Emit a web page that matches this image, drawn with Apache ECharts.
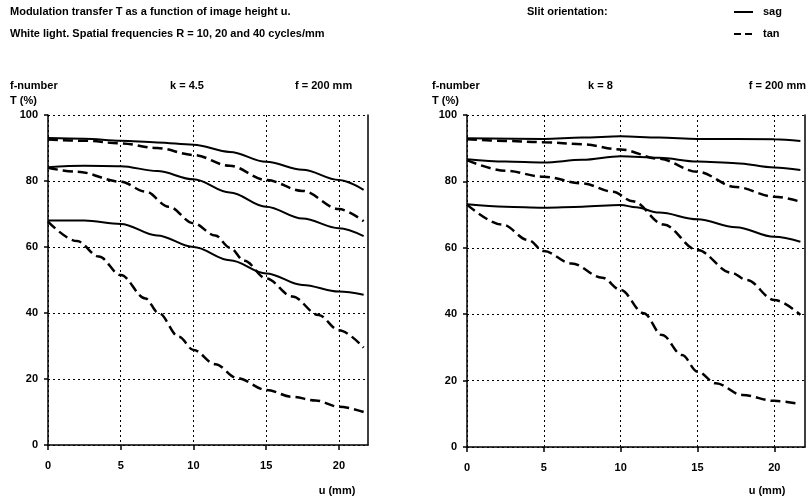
<!DOCTYPE html>
<html>
<head>
<meta charset="utf-8">
<script src="https://cdn.jsdelivr.net/npm/echarts@6/dist/echarts.min.js"></script>
<style>
  html, body { margin: 0; padding: 0; background: #fff; }
  #chart { width: 808px; height: 502px; }
</style>
</head>
<body>
<div id="chart"></div>
<script>
// u (mm) vs T (%), R = 10, 20, 40 cycles/mm
const xTicks = [0, 5, 10, 15, 20];
const yTicks = [0, 20, 40, 60, 80, 100];

// k = 4.5
const leftSag10 = [[0, 93], [2.5, 92.8], [5, 92.2], [7.5, 91.7], [10, 91], [12.5, 88.8], [15, 85.8], [17.5, 83.4], [20, 80.3], [21.7, 77.3]];
const leftTan10 = [[0, 92.6], [2.5, 92.2], [5, 91.4], [7.5, 90], [10, 87.9], [12.5, 84.6], [15, 80.3], [17.5, 77], [20, 71.5], [21.7, 67.8]];
const leftSag20 = [[0, 84.2], [2.5, 84.6], [5, 84.5], [7.5, 83], [10, 80.5], [12.5, 76.5], [15, 72.2], [17.5, 68.6], [20, 65.7], [21.7, 63.3]];
const leftTan20 = [[0, 84], [2, 82.8], [5, 79.8], [6.7, 76.8], [8.3, 72.2], [10, 67.2], [11.5, 63.5], [12.5, 59.8], [13.5, 55.8], [15, 50.5], [16.8, 45], [18.6, 39.4], [20, 34.8], [21.7, 29.5]];
const leftSag40 = [[0, 68], [2.5, 68], [5, 67], [7.5, 63.5], [10, 60], [12.5, 56], [15, 52], [17.5, 48.5], [20, 46.5], [21.7, 45.5]];
const leftTan40 = [[0, 67.7], [2, 61.8], [3.5, 57.1], [5, 51.5], [6.7, 44.4], [7.6, 40], [9, 32.8], [10, 28.8], [11.5, 24.5], [13, 20.3], [15, 16.7], [16.8, 14.6], [18.4, 13.5], [20, 11.6], [21.7, 10]];

// k = 8
const rightSag10 = [[0, 93], [5, 92.8], [7.5, 93.2], [10, 93.6], [12.5, 93.2], [15, 92.8], [20, 92.7], [21.7, 92.2]];
const rightTan10 = [[0, 92.7], [2.5, 92.2], [5, 91.8], [7.5, 91.2], [10, 89.6], [12.5, 86.8], [15, 82.9], [17.5, 78.3], [20, 75.4], [21.7, 73.9]];
const rightSag20 = [[0, 86.7], [2.5, 86], [5, 85.7], [7.5, 86.5], [10, 87.6], [12.5, 87.1], [15, 86], [17.5, 85.5], [20, 84.2], [21.7, 83.4]];
const rightTan20 = [[0, 86.4], [2.5, 83.2], [5, 81.4], [7.5, 79.4], [9.5, 76.9], [10.8, 74], [12.8, 67], [15, 59.3], [17.2, 52.5], [18.2, 50.3], [20, 44.3], [21.7, 39.8]];
const rightSag40 = [[0, 73.1], [2.5, 72.4], [5, 72.1], [7.5, 72.4], [10, 72.9], [11, 72.2], [12.5, 70.6], [15, 68.6], [17.5, 66.2], [20, 63.3], [21.7, 61.8]];
const rightTan40 = [[0, 73], [2.3, 67], [4, 62.3], [5, 59], [6.8, 55.3], [8.8, 51], [10, 47.3], [11.5, 40.3], [12.7, 33.7], [14, 27.7], [15, 22.7], [16.2, 19.2], [17.9, 15.7], [20, 13.9], [21.7, 12.9]];

const font = "'Liberation Sans', Arial, sans-serif";
const black = '#000';
const dash = [10, 5];

const chart = echarts.init(document.getElementById('chart'));

const xAxisFor = (gridIndex) => ({
  type: 'value', gridIndex, min: 0, max: 22, interval: 5,
  axisLine: { show: true, onZero: false, lineStyle: { color: black, width: 1.5 } },
  axisTick: { show: true, length: 5, customValues: xTicks, lineStyle: { color: black, width: 1.5 } },
  axisLabel: { customValues: xTicks, color: black, fontWeight: 'bold', fontSize: 11, fontFamily: font, margin: 15 },
  splitLine: { show: true, lineStyle: { color: black, width: 1, type: [2, 3] } }
});

const yAxisFor = (gridIndex) => ({
  type: 'value', gridIndex, min: 0, max: 100, interval: 20,
  axisLine: { show: true, lineStyle: { color: black, width: 1.5 } },
  axisTick: { show: true, length: 4, lineStyle: { color: black, width: 1.5 } },
  axisLabel: { color: black, fontWeight: 'bold', fontSize: 11, fontFamily: font, margin: 10 },
  splitLine: { show: true, lineStyle: { color: black, width: 1, type: [2, 3] } }
});

// plain right edge of each plot
const borderFor = (gridIndex) => ({
  type: 'value', gridIndex, position: 'right', min: 0, max: 100,
  axisLine: { show: true, lineStyle: { color: black, width: 1.5 } },
  axisTick: { show: false }, axisLabel: { show: false }, splitLine: { show: false }
});

const curve = (name, data, idx, dashed) => ({
  name, type: 'line', data, xAxisIndex: idx, yAxisIndex: idx * 2,
  showSymbol: false, symbol: 'none', smooth: 0.35, smoothMonotone: 'x',
  lineStyle: { color: black, width: dashed ? 2.5 : 2, type: dashed ? dash : 'solid' },
  itemStyle: { color: black }
});

const txt = (text, x, y, align) => ({
  type: 'text', x, y,
  style: { text, fill: black, font: 'bold 11px ' + font, textAlign: align || 'left', textVerticalAlign: 'middle' }
});

const key = (y, dashed) => ({
  type: 'line', shape: { x1: 734, y1: y, x2: 753, y2: y },
  style: { stroke: black, lineWidth: 2, lineDash: dashed ? [7, 4] : null }
});

chart.setOption({
  animation: false,
  backgroundColor: '#fff',
  grid: [
    { left: 48, top: 115, width: 320, height: 330 },
    { left: 467, top: 115, width: 338, height: 332 }
  ],
  xAxis: [xAxisFor(0), xAxisFor(1)],
  yAxis: [yAxisFor(0), borderFor(0), yAxisFor(1), borderFor(1)],
  graphic: [
    txt('Modulation transfer T as a function of image height u.', 10, 12),
    txt('White light. Spatial frequencies R = 10, 20 and 40 cycles/mm', 10, 34),
    txt('Slit orientation:', 527, 12),
    key(12, false), txt('sag', 763, 12),
    key(34, true), txt('tan', 763, 34),
    txt('f-number', 10, 86), txt('k = 4.5', 170, 86), txt('f = 200 mm', 295, 86),
    txt('f-number', 432, 86), txt('k = 8', 588, 86), txt('f = 200 mm', 806, 86, 'right'),
    txt('T (%)', 10, 101), txt('T (%)', 432, 101),
    txt('u (mm)', 337, 491, 'center'), txt('u (mm)', 767, 491, 'center')
  ],
  series: [
    curve('sag', leftSag10, 0, false), curve('tan', leftTan10, 0, true),
    curve('sag', leftSag20, 0, false), curve('tan', leftTan20, 0, true),
    curve('sag', leftSag40, 0, false), curve('tan', leftTan40, 0, true),
    curve('sag', rightSag10, 1, false), curve('tan', rightTan10, 1, true),
    curve('sag', rightSag20, 1, false), curve('tan', rightTan20, 1, true),
    curve('sag', rightSag40, 1, false), curve('tan', rightTan40, 1, true)
  ]
});
</script>
</body>
</html>
